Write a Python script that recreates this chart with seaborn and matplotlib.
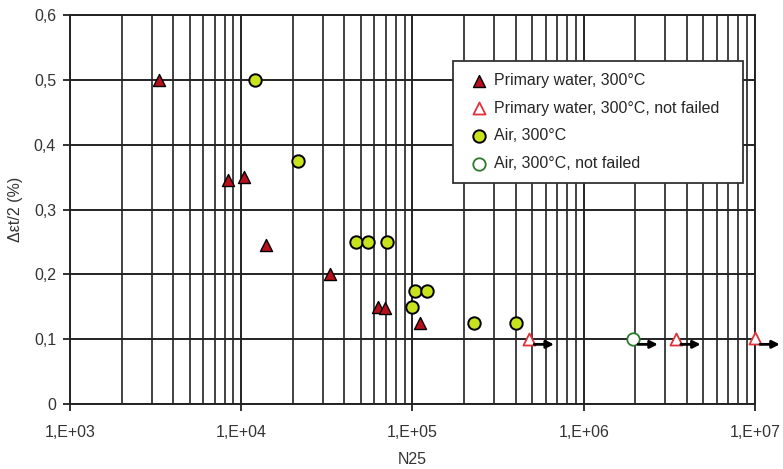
import numpy as np
import pandas as pd
import matplotlib as mpl
mpl.use("Agg")
import matplotlib.pyplot as plt
import matplotlib.ticker as mticker
import seaborn as sns

sns.set_style("white")
plt.rcParams["font.family"] = ["Liberation Sans", "DejaVu Sans"]

# primary water, failed
pw_n = [3.3e3, 8.4e3, 1.04e4, 1.4e4, 3.3e4, 6.3e4, 6.9e4, 1.11e5]
pw_eps = [0.5, 0.345, 0.35, 0.245, 0.2, 0.15, 0.148, 0.125]
# primary water, not failed (run-outs)
pw_nf_n = [4.8e5, 3.45e6, 1.0e7]
pw_nf_eps = [0.1, 0.1, 0.102]
# air, failed
air_n = [1.21e4, 2.15e4, 4.7e4, 5.5e4, 7.1e4, 1.03e5, 1.21e5, 1.0e5, 2.3e5, 4.0e5]
air_eps = [0.5, 0.375, 0.25, 0.25, 0.25, 0.175, 0.175, 0.15, 0.125, 0.125]
# air, not failed
air_nf_n = [1.94e6]
air_nf_eps = [0.1]

labels = ["Primary water, 300°C", "Primary water, 300°C, not failed",
          "Air, 300°C", "Air, 300°C, not failed"]

fig = plt.figure(figsize=(7.83, 4.69), dpi=100)
ax = fig.add_axes([0.0894, 0.1386, 0.8748, 0.8294])

ax.set_xscale("log")
ax.set_xlim(1e3, 1e7)
ax.set_ylim(0, 0.6)

grid_col = "#222222"
ax.grid(True, which="major", axis="both", color=grid_col, lw=1.4)
ax.grid(True, which="minor", axis="x", color=grid_col, lw=1.2)
ax.set_axisbelow(True)
for s in ax.spines.values():
    s.set_color(grid_col)
    s.set_linewidth(1.4)

sns.scatterplot(x=pw_n, y=pw_eps, ax=ax, marker="^", s=75, color="#b8101c",
                edgecolor="black", linewidth=1.0, label=labels[0], zorder=4,
                clip_on=False)
sns.scatterplot(x=pw_nf_n, y=pw_nf_eps, ax=ax, marker="^", s=75, color="white",
                edgecolor="#e0323a", linewidth=1.3, label=labels[1], zorder=4,
                clip_on=False)
sns.scatterplot(x=air_n, y=air_eps, ax=ax, marker="o", s=80, color="#c8e21e",
                edgecolor="black", linewidth=1.4, label=labels[2], zorder=4,
                clip_on=False)
sns.scatterplot(x=air_nf_n, y=air_nf_eps, ax=ax, marker="o", s=80, color="white",
                edgecolor="#2c7a2c", linewidth=1.3, label=labels[3], zorder=4,
                clip_on=False)

# run-out arrows
for xv, yv in zip(pw_nf_n + air_nf_n, pw_nf_eps + air_nf_eps):
    ax.annotate("", xy=(xv * 1.45, 0.092), xytext=(xv * 1.03, 0.092),
                arrowprops=dict(arrowstyle="-|>", color="black", lw=2.0,
                                mutation_scale=11),
                annotation_clip=False, zorder=5)

ax.xaxis.set_major_locator(mticker.LogLocator(base=10))
ax.xaxis.set_minor_locator(mticker.LogLocator(base=10, subs=np.arange(2, 10)))
ax.xaxis.set_minor_formatter(mticker.NullFormatter())
ax.xaxis.set_major_formatter(
    mticker.FuncFormatter(lambda v, p: "1,E+%02d" % round(np.log10(v))))
ax.yaxis.set_major_locator(mticker.MultipleLocator(0.1))
ax.yaxis.set_major_formatter(
    mticker.FuncFormatter(lambda v, p: "0" if abs(v) < 1e-9 else ("%.1f" % v).replace(".", ",")))

ax.tick_params(axis="both", which="major", labelsize=11.5, labelcolor="#333333",
               length=5, width=1.3, color=grid_col, direction="out",
               left=True, bottom=True)
ax.tick_params(axis="y", which="major", pad=5)
ax.tick_params(axis="x", which="major", pad=10)
ax.tick_params(axis="x", which="minor", length=0)

ax.set_xlabel("N25", fontsize=11.5, color="#333333", labelpad=9)
ax.set_ylabel("Δεt/2 (%)", fontsize=11.5, color="#333333", labelpad=8)

leg_h = 121 / 389
leg = ax.legend(loc="upper left", bbox_to_anchor=(0.559, 0.882 - leg_h, 0.4234, leg_h),
                mode="expand", frameon=True,
                fancybox=False, framealpha=1, edgecolor="#333333", fontsize=11.5,
                handletextpad=0.05, borderpad=0.75, labelspacing=0.8,
                handlelength=1.8, borderaxespad=0)
leg.get_frame().set_linewidth(1.3)
leg.set_zorder(6)

fig.savefig("out.png", dpi=100)
